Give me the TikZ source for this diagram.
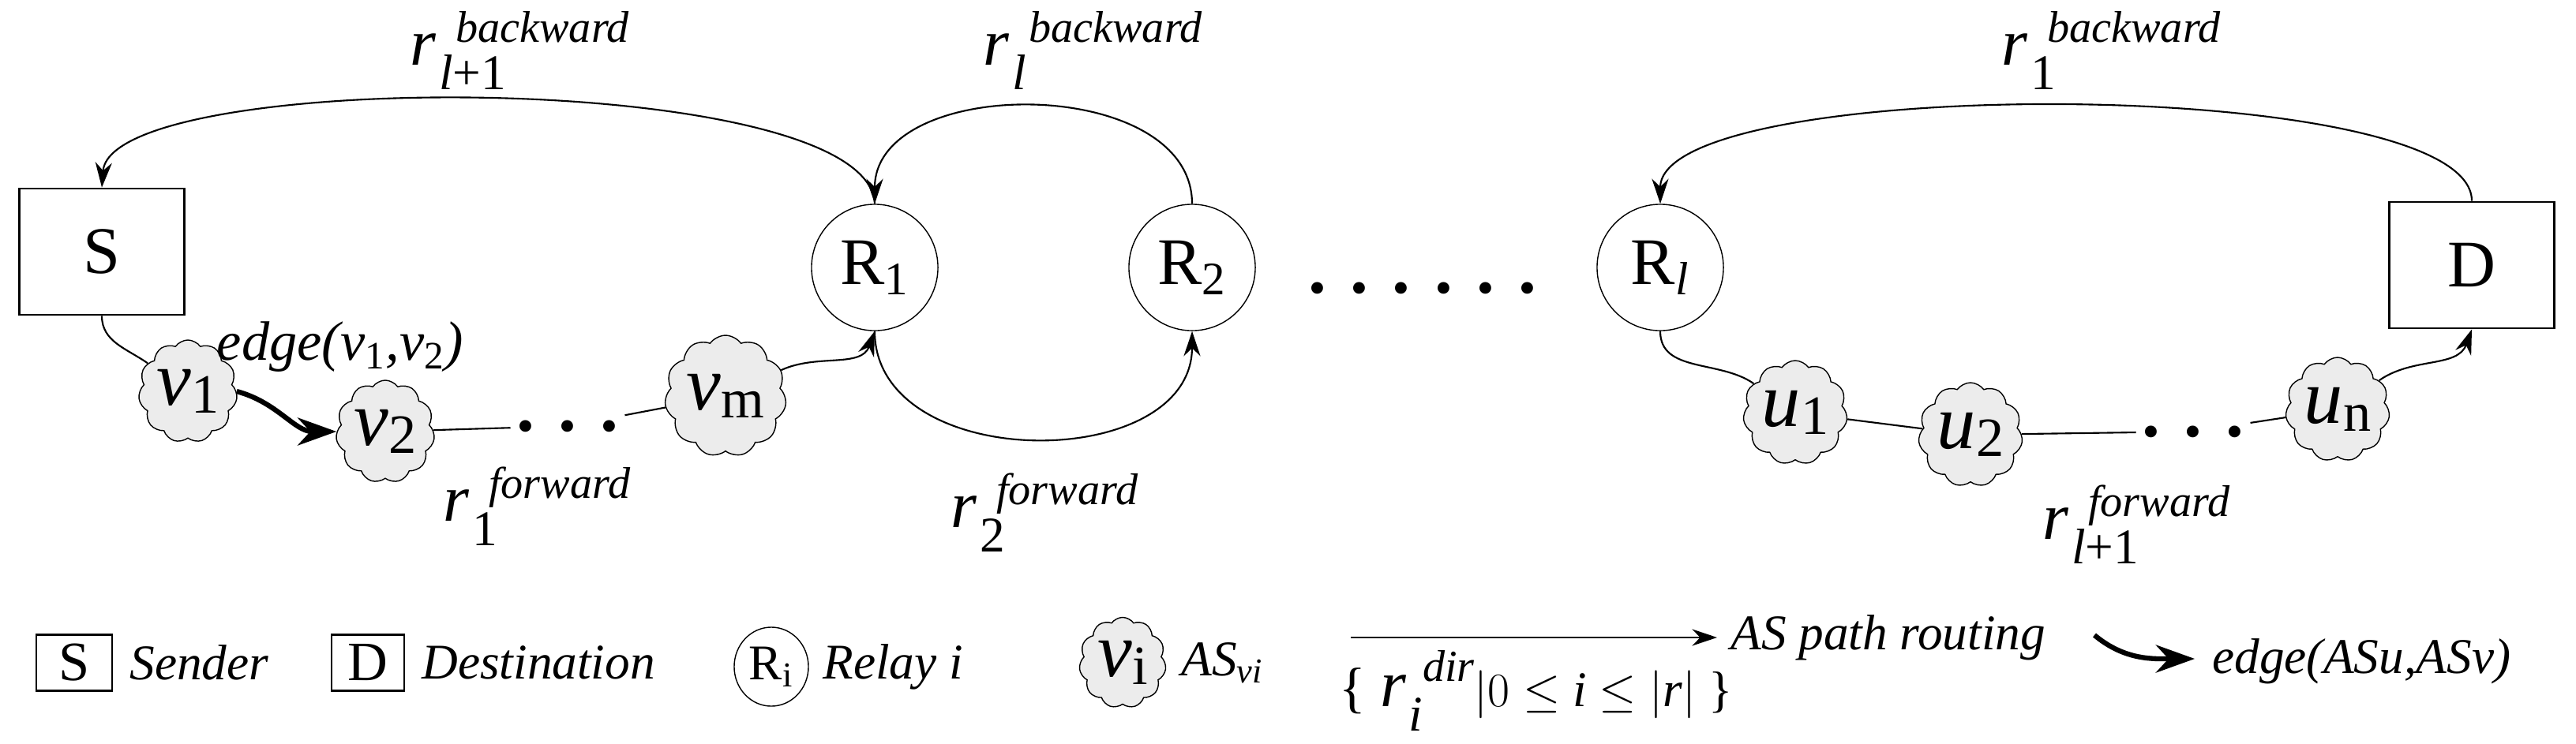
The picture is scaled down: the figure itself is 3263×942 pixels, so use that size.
\documentclass[tikz,border=0pt]{standalone}
\usepackage{fontspec}
\setmainfont{LiberationSerif}[Extension=.ttf,UprightFont=*-Regular,ItalicFont=*-Italic,BoldFont=*-Bold,BoldItalicFont=*-BoldItalic]
\usetikzlibrary{shapes.symbols,shapes.geometric,arrows.meta}
\newcommand\rlab[2]{{\fontsize{24}{24}\selectfont\itshape r}\rlap{\hspace{7pt}\raisebox{8pt}{\fontsize{16}{16}\selectfont\itshape #1}}\hspace{1pt}\raisebox{-9pt}{\fontsize{18}{18}\selectfont #2}}
\newcommand\cv[2]{{\fontsize{28}{28}\selectfont\itshape #1}{\fontsize{20}{20}\selectfont\raisebox{-3pt}{#2}}}
\begin{document}
\begin{tikzpicture}[x=0.01cm,y=-0.01cm,
  box/.style={draw,thick,minimum width=2.09cm,minimum height=1.6cm,font=\fontsize{24}{24}\selectfont},
  relay/.style={draw,circle,minimum size=1.6cm,inner sep=0pt,font=\fontsize{24}{24}\selectfont},
  as/.style={draw,cloud,cloud puffs=11,cloud puff arc=110,aspect=1,fill=gray!15,minimum width=1.25cm,minimum height=1.3cm,inner sep=0pt},
  ln/.style={draw,line width=0.6pt},
  ar/.style={ln,-{Stealth[length=9pt,width=6pt]}},
  lg/.style={font=\fontsize{18}{18}\selectfont\itshape,anchor=west},
  dots/.style={font=\fontsize{26}{26}\selectfont\bfseries,inner sep=2pt}]
\useasboundingbox (0,0) rectangle (3263,942);
% nodes
\node[box] (S) at (129,319) {S};
\node[box] (D) at (3131,336) {D};
\node[relay] (R1) at (1108,339) {R\textsubscript{1}};
\node[relay] (R2) at (1510,339) {R\textsubscript{2}};
\node[relay] (Rl) at (2103,339) {R\textsubscript{\itshape l}};
\node[font=\fontsize{26}{26}\selectfont\bfseries] (bigdots) at (1802,365) {. . . . . .};
\node[as] (v1) at (238,496) {\cv{v}{1}};
\node[as] (v2) at (488,547) {\cv{v}{2}};
\node[as] (vm) at (919,502) {\cv{v}{m}};
\node[dots] (d1) at (719,540) {. . .};
\node[as] (u1) at (2274,523) {\cv{u}{1}};
\node[as] (u2) at (2496,551) {\cv{u}{2}};
\node[as] (un) at (2961,519) {\cv{u}{n}};
\node[dots] (d2) at (2778,547) {. . .};
% labels
\node[font=\fontsize{20}{20}\selectfont\itshape] (el) at (431,440) {edge(v\textsubscript{\upshape 1},v\textsubscript{\upshape 2})};
\node[anchor=base west,inner sep=0pt] (lb1) at (519,82) {\rlab{backward}{\itshape l\upshape+1}};
\node[anchor=base west,inner sep=0pt] (lb2) at (1245,82) {\rlab{backward}{\itshape l}};
\node[anchor=base west,inner sep=0pt] (lb3) at (2535,82) {\rlab{backward}{1}};
\node[anchor=base west,inner sep=0pt] (lf1) at (561,660) {\rlab{forward}{1}};
\node[anchor=base west,inner sep=0pt] (lf2) at (1204,668) {\rlab{forward}{2}};
\node[anchor=base west,inner sep=0pt] (lf3) at (2587,683) {\rlab{forward}{\itshape l\upshape+1}};
% connectors
\draw[ar] (R1.north) .. controls (1100,86) and (140,86) .. (S.north);
\draw[ar] (R2.north) .. controls (1510,94) and (1108,94) .. (R1.north);
\draw[ar] (R1.south) .. controls (1108,601) and (1510,601) .. (R2.south);
\draw[ar] (D.north) .. controls (3131,94) and (2103,94) .. (Rl.north);
\draw[ln] (S.south) to[out=-90,in=145] (v1);
\draw[line width=1.8pt,-{Stealth[length=14pt,width=10pt]}] (v1.east) to[out=-15,in=180] (v2.west);
\draw[ln] (v2) -- (d1);
\draw[ln] (d1) -- (vm);
\draw[ar] (vm) to[out=25,in=-110] (R1.south);
\draw[ln] (Rl.south) to[out=-90,in=145] (u1);
\draw[ln] (u1) -- (u2);
\draw[ln] (u2) -- (d2);
\draw[ln] (d2) -- (un);
\draw[ar] (un) to[out=35,in=-110] (D.south);
% legend
\node[draw,thick,minimum width=0.96cm,minimum height=0.71cm,inner sep=0pt,font=\fontsize{20}{20}\selectfont] (lS) at (94,840) {S};
\node[lg] (tS) at (152,840) {Sender};
\node[draw,thick,minimum width=0.92cm,minimum height=0.71cm,inner sep=0pt,font=\fontsize{20}{20}\selectfont] (lD) at (466,840) {D};
\node[lg] (tD) at (522,840) {Destination};
\node[draw,ellipse,minimum width=0.94cm,minimum height=1.0cm,inner sep=0pt,font=\fontsize{18}{18}\selectfont] (lR) at (977,845) {R\textsubscript{i}};
\node[lg] (tR) at (1030,845) {Relay i};
\node[as,minimum width=1.1cm,minimum height=1.15cm] (lC) at (1422,840) {\cv{v}{i}};
\node[lg] (tC) at (1484,840) {AS\textsubscript{vi}};
\coordinate (a1) at (1711,808);
\coordinate (a2) at (2175,808);
\draw[ar] (a1) -- (a2);
\node[lg] (tA) at (2180,808) {AS path routing};
\node[anchor=base west,inner sep=0pt] (set) at (1696,895) {{\fontsize{20}{20}\selectfont\{\ }{\fontsize{24}{24}\selectfont\itshape r}\hspace{1pt}\raisebox{-9pt}{\fontsize{18}{18}\selectfont\itshape i}\raisebox{9pt}{\fontsize{16}{16}\selectfont\itshape dir}{\fontsize{18}{18}\selectfont$|0\leq$ \itshape i \upshape$\leq|$\itshape r\upshape$|$ \}}};
\coordinate (b1) at (2653,805);
\coordinate (b2) at (2780,835);
\draw[line width=1.8pt,-{Stealth[length=14pt,width=10pt]}] (b1) to[out=-40,in=180] (b2);
\node[lg] (tB) at (2790,838) {edge(ASu,ASv)};
\end{tikzpicture}
\end{document}
